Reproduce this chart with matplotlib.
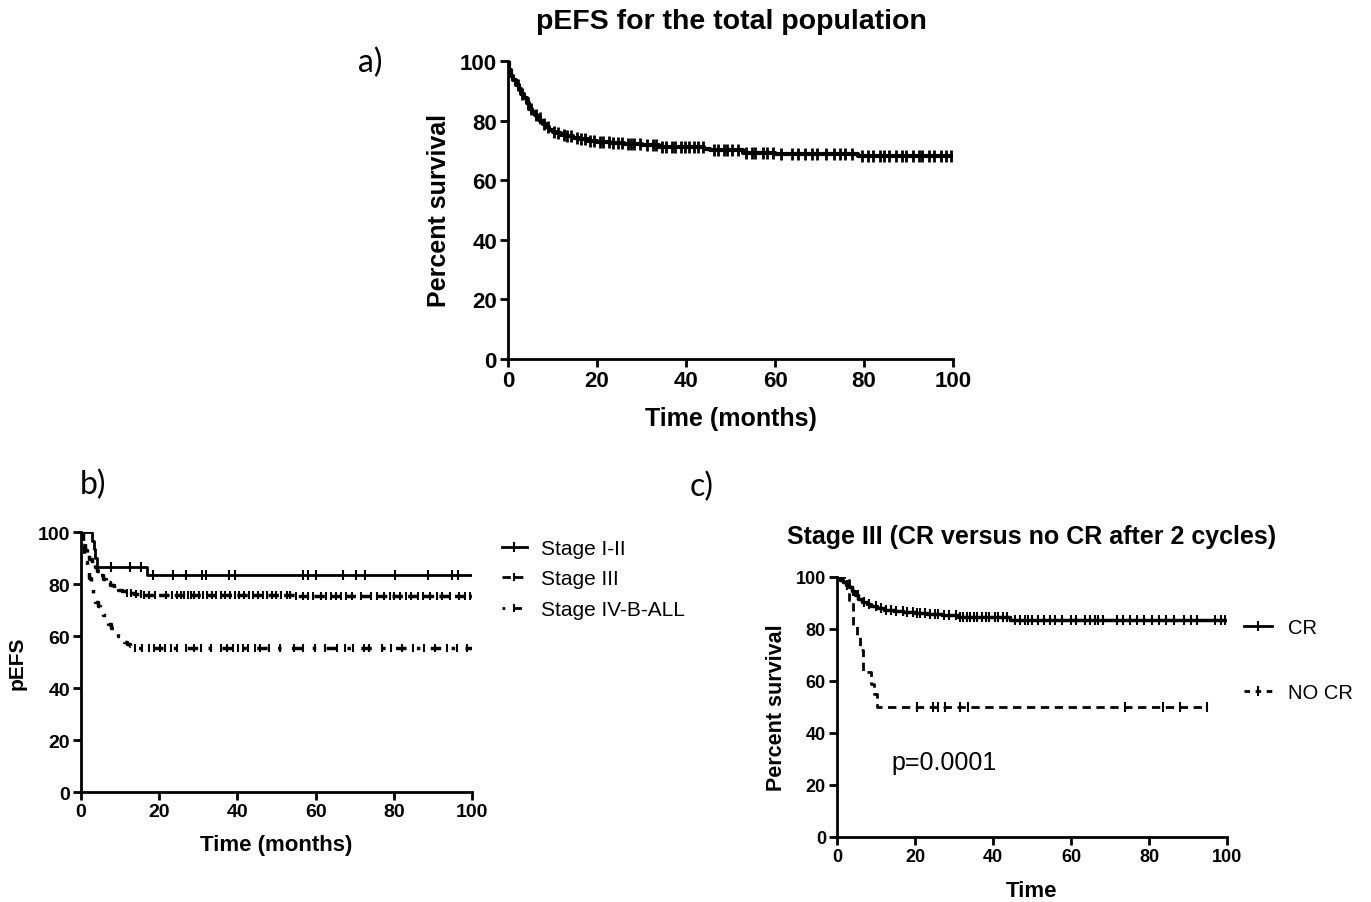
import numpy as np
import matplotlib
matplotlib.use("Agg")
import matplotlib.pyplot as plt
from matplotlib.lines import Line2D

plt.rcParams['font.family'] = ['Liberation Sans', 'DejaVu Sans']

# ---- a) total population ----
a_time = [0, 0.3, 0.7, 1.2, 1.8, 2.4, 3, 3.6, 4.2, 4.8, 5.4, 6, 6.6, 7.2, 7.8, 8.5, 9.3,
          10.2, 11, 12, 13, 14.5, 16, 18, 20, 23, 26, 30, 34, 38, 44, 45.5, 52.8, 60, 78.7, 100]
a_surv = [100, 97, 95, 93.5, 92, 90.5, 89, 87.5, 86, 84, 83, 82, 81, 80, 79, 78, 77,
          76.3, 75.7, 75.2, 74.7, 74.2, 73.8, 73.3, 72.9, 72.5, 72.1, 71.7, 71.3, 71, 70.6, 70.2, 69, 68.8, 68, 68]
a_cens = [2.2, 3.1, 4.4, 5.2, 6.3, 7.1, 8.2, 9.0, 10.4, 11.3, 12.5, 13.2, 14.1, 15.6, 16.4, 17.2,
          18.5, 19.3, 20.6, 21.4, 22.7, 23.5, 24.8, 25.6, 26.9, 27.7, 28.4, 29.6, 31.2, 32.5, 33.3,
          34.6, 35.4, 36.8, 37.5, 38.9, 39.7, 40.6, 41.8, 42.6, 43.9, 46.2, 47.1, 48.5, 49.3, 50.4,
          51.6, 53.5, 54.8, 55.6, 57.4, 58.2, 59.5, 61.3, 63.8, 65.1, 66.7, 68.3, 69.4, 71.5, 73.2,
          74.6, 75.8, 77.4, 79.6, 80.8, 82.1, 83.5, 84.4, 85.7, 87.2, 88.6, 89.5, 90.9, 92.3, 93.1,
          94.6, 95.8, 97.3, 98.5, 99.6]

# ---- b) by stage ----
s12_time = [0, 2.7, 3.2, 3.7, 4.1, 17.0, 100]
s12_surv = [100, 96.7, 93.3, 90.0, 86.7, 83.4, 83.4]
s12_cens = [7.8, 12.5, 15.3, 18.5, 23.6, 26.9, 30.9, 31.9, 37.9, 39.4, 56.7, 58.1, 60.1,
            67.1, 70.3, 72.6, 80.3, 88.8, 94.8, 96.5]

s3_time = [0, 0.4, 0.9, 1.5, 2.1, 2.8, 3.5, 4.2, 4.9, 5.7, 6.5, 7.4, 8.4, 9.5, 10.6, 11.8, 13.5, 16, 30, 55, 100]
s3_surv = [100, 96, 93, 91, 89.5, 88, 86.5, 85, 83.5, 82, 80.8, 79.6, 78.6, 77.8, 77.2, 76.6, 76.2, 75.9, 75.6, 75.3, 75.3]
s3_cens = [11.8, 12.9, 14.1, 15.4, 16.2, 17.5, 18.9, 21.7, 23.4, 24.6, 25.5, 26.4, 27.3, 28.1, 29.0,
           30.2, 31.1, 32.3, 33.6, 34.5, 35.8, 36.9, 38.2, 39.5, 40.4, 41.6, 43.0, 44.1, 45.3, 46.5,
           47.6, 48.8, 49.9, 51.2, 52.6, 53.4, 55.0, 56.8, 58.0, 59.4, 61.5, 62.6, 64.0, 65.3,
           66.4, 67.9, 69.4, 71.5, 74.2, 75.6, 77.5, 79.0, 80.1, 81.7, 83.2, 84.3, 86.1, 87.4,
           89.2, 91.0, 92.4, 94.3, 96.7, 98.3, 99.5]

s4_time = [0, 0.3, 0.7, 1.1, 1.5, 2.0, 2.5, 3.1, 3.7, 4.3, 4.9, 5.6, 6.3, 7.0, 7.8, 8.6, 9.4,
           10.2, 11.0, 11.8, 12.6, 13.4, 100]
s4_surv = [100, 95, 91.5, 88.5, 85.8, 82.5, 78.5, 75, 73, 71.5, 70, 68, 66, 64.5, 63, 61.5, 60,
           58.8, 57.7, 56.8, 56, 55.2, 55.2]
s4_cens = [13.9, 15.6, 17.4, 18.6, 20.3, 21.4, 23.1, 24.5, 26.8, 28.9, 30.7, 33.2, 35.9, 37.4,
           39.0, 40.2, 41.5, 42.8, 44.6, 45.7, 48.2, 51.0, 54.4, 56.7, 59.9, 62.3, 65.5, 67.4,
           69.5, 72.4, 73.6, 77.1, 79.3, 82.0, 84.9, 87.7, 90.6, 93.5, 96.1, 98.7]

# ---- c) Stage III CR vs no CR ----
cr_time = [0, 0.8, 1.5, 2.3, 3.0, 3.8, 4.6, 5.5, 6.5, 7.6, 8.8, 10.2, 12, 14.5, 17, 20, 23, 27,
           31, 44.4, 100]
cr_surv = [100, 99, 98, 97, 96, 94.5, 93, 91.5, 90.5, 89.6, 88.8, 88.1, 87.5, 87, 86.6, 86.2,
           85.7, 85.2, 84.7, 83.6, 83.6]
cr_cens = [2.6, 4.1, 5.3, 6.8, 8.2, 9.9, 11.4, 12.6, 13.9, 15.1, 16.8, 17.9, 19.5, 20.4, 21.2,
           22.6, 23.8, 25.1, 26.0, 27.5, 28.6, 30.4, 31.5, 32.4, 33.3, 34.2, 35.1, 36.0, 37.3,
           38.2, 39.1, 40.5, 41.3, 42.6, 43.5, 45.6, 46.8, 48.2, 49.0, 50.1, 51.5, 53.0, 54.6,
           56.0, 57.8, 59.9, 61.4, 63.6, 64.8, 66.1, 67.0, 68.2, 71.7, 73.4, 75.2, 77.0, 78.6,
           80.7, 82.5, 84.3, 86.4, 88.9, 90.8, 92.3, 96.8, 98.4, 99.4]

nocr_time = [0, 3.0, 4.2, 5.0, 6.0, 6.7, 8.7, 9.5, 10.3, 94.8]
nocr_surv = [100, 91, 81, 77, 72, 63.5, 59, 55, 50, 50]
nocr_cens = [20.4, 24.7, 26.0, 27.7, 31.5, 33.7, 73.8, 83.7, 88.0, 94.8]


def step_value(times, surv, t):
    idx = np.searchsorted(times, t, side='right') - 1
    return np.asarray(surv)[idx]


def km(ax, times, surv, cens, ls, lw, msize, mew):
    ax.step(times, surv, where='post', color='black', lw=lw, linestyle=ls)
    ax.plot(cens, step_value(times, surv, cens), linestyle='none', marker='|',
            color='black', markersize=msize, markeredgewidth=mew)


def style_axes(ax, tick_fs):
    ax.set_xlim(0, 100)
    ax.set_ylim(0, 100)
    ax.set_xticks([0, 20, 40, 60, 80, 100])
    ax.set_yticks([0, 20, 40, 60, 80, 100])
    for side in ['top', 'right']:
        ax.spines[side].set_visible(False)
    for side in ['left', 'bottom']:
        ax.spines[side].set_linewidth(2)
    ax.tick_params(direction='out', length=6, width=2, labelsize=tick_fs, pad=2)
    for lab in ax.get_xticklabels() + ax.get_yticklabels():
        lab.set_fontweight('bold')


W, H = 1371, 903
fig = plt.figure(figsize=(W / 100, H / 100), dpi=100)


def box(x0, x1, ytop, ybot):
    return [x0 / W, 1 - ybot / H, (x1 - x0) / W, (ybot - ytop) / H]


# a)
ax_a = fig.add_axes(box(508, 953, 62, 360))
km(ax_a, a_time, a_surv, a_cens, '-', 3, 9, 2)
style_axes(ax_a, 16)
ax_a.set_xlabel('Time (months)', fontsize=18, fontweight='bold', labelpad=11)
ax_a.set_ylabel('Percent survival', fontsize=18, fontweight='bold', labelpad=6)
fig.text(731 / W, 1 - 22 / H, 'pEFS for the total population', ha='center', va='center',
         fontsize=20.5, fontweight='bold')
fig.text(370 / W, 1 - 63 / H, 'a)', ha='center', va='center', fontsize=23,
         family=['Lato', 'DejaVu Sans'])

# b)
ax_b = fig.add_axes(box(81, 472, 533, 793))
km(ax_b, s12_time, s12_surv, s12_cens, '-', 2, 7, 1.5)
km(ax_b, s3_time, s3_surv, s3_cens, (0, (3, 1.5)), 2.5, 6, 1.5)
km(ax_b, s4_time, s4_surv, s4_cens, (0, (1, 3, 3, 3)), 2.5, 6, 1.5)
style_axes(ax_b, 14)
ax_b.set_xlabel('Time (months)', fontsize=16, fontweight='bold', labelpad=10)
ax_b.set_ylabel('pEFS', fontsize=15, fontweight='bold', labelpad=8)
fig.text(93 / W, 1 - 485 / H, 'b)', ha='center', va='center', fontsize=23,
         family=['Lato', 'DejaVu Sans'])
hb = [Line2D([0], [0], color='black', lw=2, ls='-', marker='|', markersize=7, markeredgewidth=1.5),
      Line2D([0], [0], color='black', lw=2, ls=(0, (3, 1.5)), marker='|', markersize=6, markeredgewidth=1.5),
      Line2D([0], [0], color='black', lw=2, ls=(0, (1, 3, 3, 3)), marker='|', markersize=6, markeredgewidth=1.5)]
fig.legend(hb, ['Stage I-II', 'Stage III', 'Stage IV-B-ALL'], loc='center left',
           bbox_to_anchor=(483 / W, 1 - 580 / H), frameon=False, fontsize=15,
           handlelength=1.2, handletextpad=0.7, labelspacing=0.55, numpoints=1)

# c)
ax_c = fig.add_axes(box(837, 1227, 578, 838))
km(ax_c, cr_time, cr_surv, cr_cens, '-', 2.5, 7, 1.5)
km(ax_c, nocr_time, nocr_surv, nocr_cens, (0, (3, 2)), 2, 7, 1.5)
style_axes(ax_c, 13)
ax_c.set_xlabel('Time', fontsize=16, fontweight='bold', labelpad=11)
ax_c.set_ylabel('Percent survival', fontsize=15.5, fontweight='bold', labelpad=6)
ax_c.text(14, 29, 'p=0.0001', fontsize=18, ha='left', va='center')
fig.text(1032 / W, 1 - 537 / H, 'Stage III (CR versus no CR after 2 cycles)', ha='center',
         va='center', fontsize=18, fontweight='bold')
fig.text(702 / W, 1 - 487 / H, 'c)', ha='center', va='center', fontsize=23,
         family=['Lato', 'DejaVu Sans'])
hc = [Line2D([0], [0], color='black', lw=2, ls='-', marker='|', markersize=7, markeredgewidth=1.5),
      Line2D([0], [0], color='black', lw=2, ls=(0, (2, 2)), marker='|', markersize=7, markeredgewidth=1.5)]
fig.legend(hc, ['CR', 'NO CR'], loc='center left', bbox_to_anchor=(1226 / W, 1 - 661 / H),
           frameon=False, fontsize=14.5, handlelength=1.4, handletextpad=0.8,
           labelspacing=2.3, numpoints=1)

fig.savefig('out.png', dpi=100)
